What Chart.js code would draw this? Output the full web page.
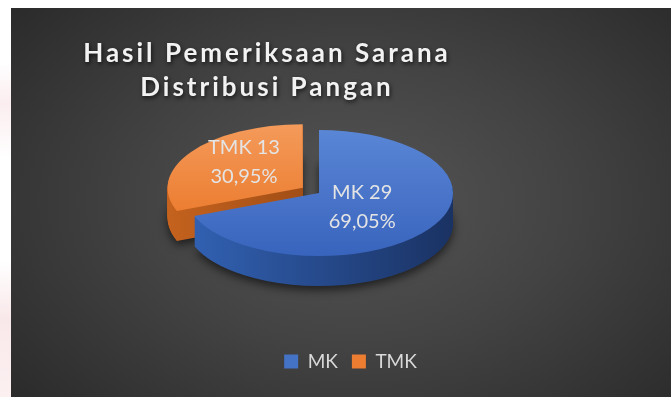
<!DOCTYPE html>
<html>
<head>
<meta charset="utf-8">
<script src="https://cdn.jsdelivr.net/npm/chart.js@4.4.1/dist/chart.umd.min.js"></script>
<style>
  html, body { margin: 0; padding: 0; }
  body {
    width: 671px; height: 397px; position: relative; overflow: hidden;
    background: linear-gradient(to bottom, #fff 0%, #fff 16%, #fbedef 26%, #fff 40%, #fff 66%, #f9e8ea 80%, #fcf0f1 100%);
  }
  #panel {
    position: absolute; left: 11px; top: 8px; width: 660px; height: 389px;
    background: radial-gradient(ellipse 72% 82% at 52% 50%, #555555 0%, #434343 45%, #282828 100%);
  }
  canvas { display: block; }
</style>
</head>
<body>
<div id="panel"><canvas id="chart" width="660" height="389"></canvas></div>
<script>
const titleLines = ["Hasil Pemeriksaan Sarana", "Distribusi Pangan"];
const categories = ["MK", "TMK"];
const counts = [29, 13];
const sliceColors = ["#4472C4", "#ED7D31"];

// shading for the lit top face and the darker rim of each slice
const faceLight = ["#5a86d6", "#f49a5a"];
const faceDark = ["#3964bd", "#e8711f"];
const rimLight = ["#3262b4", "#c4621e"];
const rimDark = ["#1a3263", "#7f3a0f"];

const total = counts.reduce((a, b) => a + b, 0);
const percentText = v => (v / total * 100).toFixed(2).replace(".", ",") + "%";

const midAngle = arc => (arc.startAngle + arc.endAngle) / 2;

// draws the pie as a tilted disc with a visible rim
const pie3d = {
  id: "pie3d",
  beforeDatasetsDraw(chart, args, opts) {
    const ctx = chart.ctx;
    const arcs = chart.getDatasetMeta(0).data;
    const cx = arcs[0].x + opts.shiftX;
    const cy = arcs[0].y + opts.shiftY;
    const r = arcs[0].outerRadius;

    const onPlane = dy => {
      ctx.translate(cx, cy + dy);
      ctx.scale(1, opts.tilt);
      ctx.translate(-arcs[0].x, -arcs[0].y);
    };
    const paint = (arc, fill) => {
      const a = Object.create(arc);
      a.options = Object.assign({}, arc.options, { backgroundColor: fill, borderWidth: 0 });
      a.draw(ctx);
    };

    // back slices first so the front ones overlap them
    const order = arcs.map((a, i) => i)
      .sort((a, b) => Math.sin(midAngle(arcs[a])) - Math.sin(midAngle(arcs[b])));

    order.forEach(i => {
      const arc = arcs[i];
      const rim = ctx.createLinearGradient(arc.x - r, 0, arc.x + r, 0);
      rim.addColorStop(0, rimLight[i]);
      rim.addColorStop(1, rimDark[i]);
      for (let d = opts.depth; d > 0; d--) {
        ctx.save();
        if (d === opts.depth) {
          ctx.shadowColor = "rgba(0,0,0,0.6)";
          ctx.shadowBlur = 10;
          ctx.shadowOffsetY = 4;
        }
        onPlane(d);
        paint(arc, rim);
        ctx.restore();
      }
      const face = ctx.createLinearGradient(0, arc.y - r, 0, arc.y + r);
      face.addColorStop(0, faceLight[i]);
      face.addColorStop(1, faceDark[i]);
      ctx.save();
      onPlane(0);
      paint(arc, face);
      ctx.restore();
    });
    return false;
  },
  afterDraw(chart, args, opts) {
    const ctx = chart.ctx;
    const arcs = chart.getDatasetMeta(0).data;
    const cx = arcs[0].x + opts.shiftX;
    const cy = arcs[0].y + opts.shiftY;

    // value labels on the slices
    ctx.save();
    ctx.font = "20px Lato";
    ctx.fillStyle = "#e4e4e4";
    ctx.textAlign = "center";
    ctx.textBaseline = "alphabetic";
    arcs.forEach((arc, i) => {
      const m = midAngle(arc);
      const rr = arc.outerRadius * opts.labelRadius[i] + (arc.options.offset || 0) / 4;
      const x = cx + Math.cos(m) * rr + 2 * i;
      const y = cy + Math.sin(m) * rr * opts.tilt + opts.labelLift[i];
      ctx.fillText(categories[i] + " " + counts[i], x, y - 7.5);
      ctx.fillText(percentText(counts[i]), x, y + 21.5);
    });
    ctx.restore();

    // chart title
    ctx.save();
    ctx.font = "bold 26px Lato";
    ctx.letterSpacing = "3px";
    ctx.fillStyle = "#f2f2f2";
    ctx.textAlign = "center";
    ctx.textBaseline = "alphabetic";
    ctx.shadowColor = "rgba(0,0,0,0.7)";
    ctx.shadowBlur = 4;
    ctx.shadowOffsetX = 1;
    ctx.shadowOffsetY = 2;
    titleLines.forEach((line, i) => ctx.fillText(line, 256, 54 + i * 34));
    ctx.restore();
  }
};

new Chart(document.getElementById("chart"), {
  type: "pie",
  data: {
    labels: categories,
    datasets: [{
      data: counts,
      backgroundColor: sliceColors,
      borderWidth: 0,
      offset: [0, 78],
      radius: 134
    }]
  },
  options: {
    responsive: false,
    animation: false,
    events: [],
    layout: { padding: { left: 19, top: 38, bottom: 16 } },
    plugins: {
      pie3d: {
        tilt: 0.47, depth: 30, shiftX: -31.5, shiftY: 1,
        labelRadius: [0.39, 0.55], labelLift: [0, -7]
      },
      tooltip: { enabled: false },
      legend: {
        position: "bottom",
        labels: {
          color: "#d9d9d9",
          font: { family: "Lato", size: 19 },
          boxWidth: 14,
          boxHeight: 14,
          padding: 14
        }
      }
    }
  },
  plugins: [pie3d]
});
</script>
</body>
</html>
